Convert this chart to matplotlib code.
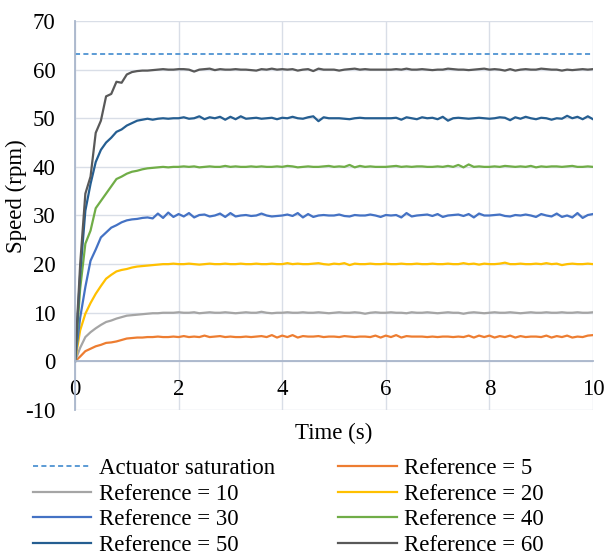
import numpy as np
import matplotlib
matplotlib.use("Agg")
import matplotlib.pyplot as plt

plt.rcParams["font.family"] = ["Liberation Serif", "DejaVu Serif"]
plt.rcParams["axes.unicode_minus"] = False

# Tiempo de muestreo 0.1 s, de 0 a 10 s
tiempo = np.linspace(0, 10, 101)

saturacion = 63.3

ref5 = [0, 1.0, 2.1, 2.6, 3.1, 3.4, 3.8, 3.9, 4.1, 4.4,
        4.7, 4.8, 4.9, 4.9, 5.0, 5.0, 5.1, 5.0, 5.0, 5.1,
        5.0, 5.2, 5.0, 5.1, 5.0, 5.3, 5.0, 5.1, 5.2, 5.0,
        5.1, 5.0, 5.0, 5.1, 5.0, 5.1, 5.2, 5.0, 5.4, 4.9,
        5.3, 5.0, 5.4, 4.9, 5.2, 5.1, 5.1, 5.2, 5.0, 5.1,
        5.1, 5.0, 5.2, 5.1, 5.0, 5.1, 5.1, 5.0, 5.3, 4.9,
        5.3, 5.0, 5.4, 4.9, 5.2, 5.1, 5.1, 5.1, 5.0, 5.1,
        5.0, 5.1, 5.1, 5.0, 5.1, 5.0, 5.3, 4.9, 5.3, 5.0,
        5.3, 4.9, 5.2, 5.0, 5.3, 4.9, 5.2, 5.0, 5.1, 5.1,
        5.0, 5.3, 4.9, 5.2, 5.0, 5.3, 4.9, 5.1, 5.0, 5.3,
        5.4]

ref10 = [0, 2.8, 5.0, 6.0, 6.8, 7.5, 8.1, 8.4, 8.8, 9.1,
         9.4, 9.5, 9.6, 9.7, 9.8, 9.9, 9.9, 10.0, 10.0, 10.0,
         10.1, 10.0, 10.0, 10.1, 9.9, 10.0, 10.1, 10.0, 10.0, 10.1,
         10.0, 9.9, 10.0, 10.1, 10.0, 10.0, 10.2, 10.0, 9.9, 10.0,
         10.0, 10.1, 10.0, 10.0, 10.1, 10.0, 10.0, 10.1, 10.0, 9.9,
         10.0, 10.1, 10.0, 10.0, 10.1, 10.0, 9.8, 10.0, 10.1, 10.0,
         10.0, 10.1, 10.0, 10.0, 9.9, 10.1, 10.0, 10.0, 10.1, 10.0,
         9.9, 10.0, 10.1, 10.0, 10.0, 9.8, 10.0, 10.1, 10.0, 9.9,
         10.0, 10.1, 10.0, 10.0, 10.1, 10.0, 9.9, 10.0, 10.1, 10.0,
         10.0, 10.1, 10.0, 10.0, 10.1, 10.0, 10.0, 10.1, 10.0, 10.0,
         10.1]

ref20 = [0, 6.4, 9.8, 12.0, 13.9, 15.5, 17.0, 17.8, 18.5, 18.8,
         19.0, 19.3, 19.5, 19.6, 19.7, 19.8, 19.9, 20.0, 20.0, 20.1,
         20.0, 20.0, 20.1, 20.0, 19.9, 20.0, 20.1, 20.0, 20.0, 20.1,
         20.0, 20.0, 20.1, 20.0, 20.0, 20.1, 20.0, 20.0, 20.1, 20.0,
         20.0, 20.2, 20.0, 20.1, 20.0, 20.0, 20.1, 20.2, 20.0, 19.9,
         20.1, 20.0, 20.2, 19.8, 20.1, 20.0, 20.0, 20.1, 20.0, 20.0,
         20.1, 20.0, 20.0, 20.1, 20.0, 20.0, 20.1, 20.0, 20.0, 20.1,
         20.0, 20.0, 20.1, 20.0, 20.0, 20.2, 20.0, 20.1, 19.9, 20.1,
         20.0, 20.0, 20.1, 20.3, 20.0, 20.0, 20.1, 20.0, 20.0, 20.1,
         20.0, 20.2, 20.0, 20.1, 19.8, 20.0, 20.1, 20.0, 20.0, 20.1,
         20.0]

ref30 = [0, 9.0, 15.3, 20.7, 23.0, 25.5, 26.5, 27.5, 28.0, 28.6,
         29.0, 29.2, 29.3, 29.5, 29.6, 29.4, 30.4, 29.5, 30.6, 29.7,
         30.3, 29.8, 30.5, 29.6, 30.1, 30.2, 29.8, 30.0, 30.4, 29.7,
         30.5, 29.8, 30.0, 30.1, 29.9, 30.0, 30.4, 30.0, 29.8, 29.9,
         30.0, 30.2, 29.9, 30.5, 29.6, 30.3, 29.7, 30.0, 30.1, 30.0,
         30.0, 30.2, 29.9, 29.8, 30.1, 30.0, 30.0, 30.2, 30.0, 29.7,
         30.1, 30.0, 30.1, 29.6, 30.5, 29.8, 30.0, 30.1, 30.2, 29.9,
         30.3, 29.7, 30.0, 30.1, 30.2, 29.9, 30.3, 29.6, 30.4, 30.0,
         30.0, 30.1, 30.2, 29.9, 29.8, 30.1, 30.0, 30.2, 30.0, 29.7,
         30.3, 30.0, 29.8, 30.4, 29.7, 30.0, 29.6, 30.5, 29.5, 30.1,
         30.3]

ref40 = [0, 15.0, 24.2, 26.9, 31.5, 33.0, 34.5, 36.0, 37.5, 38.0,
         38.6, 39.0, 39.2, 39.5, 39.7, 39.8, 39.9, 40.0, 39.9, 40.0,
         40.0, 40.1, 40.0, 40.1, 39.9, 40.0, 40.1, 40.0, 40.0, 40.2,
         40.0, 40.1, 40.0, 40.0, 40.1, 40.0, 40.1, 40.0, 40.0, 40.1,
         40.0, 40.2, 40.1, 39.9, 40.0, 40.1, 40.0, 40.0, 40.1, 40.2,
         40.0, 40.1, 40.0, 40.4, 39.9, 40.2, 40.0, 40.1, 40.0, 40.0,
         40.0, 40.1, 40.2, 40.0, 40.1, 40.0, 40.1, 40.1, 40.0, 40.0,
         40.1, 40.0, 40.2, 40.0, 40.4, 39.9, 40.5, 40.0, 40.1, 40.0,
         40.0, 40.1, 40.0, 40.2, 40.1, 40.0, 40.1, 40.0, 40.2, 39.9,
         40.1, 40.0, 40.1, 40.1, 40.0, 40.1, 40.2, 40.0, 40.0, 40.1,
         40.0]

ref50 = [0, 18.0, 31.0, 36.5, 41.0, 43.5, 45.0, 46.0, 47.2, 47.7,
         48.5, 49.0, 49.5, 49.7, 49.9, 49.7, 49.9, 50.0, 49.9, 50.0,
         50.0, 50.2, 49.9, 50.0, 50.4, 49.8, 50.2, 50.0, 50.3, 49.7,
         50.3, 49.8, 50.4, 49.9, 50.0, 50.1, 49.9, 50.0, 50.1, 49.8,
         50.1, 50.0, 50.3, 50.0, 49.9, 50.2, 50.4, 49.4, 50.2, 50.0,
         50.0, 50.0, 49.9, 49.8, 50.0, 50.1, 50.0, 50.0, 50.0, 50.0,
         50.0, 50.0, 50.1, 49.7, 50.2, 50.0, 49.8, 50.2, 50.0, 50.1,
         49.8, 50.3, 49.5, 50.0, 50.1, 50.0, 49.9, 50.0, 50.1, 50.0,
         49.9, 50.0, 50.2, 50.1, 49.6, 50.2, 49.9, 50.3, 50.0, 49.8,
         50.1, 50.0, 49.7, 50.0, 49.9, 50.5, 50.0, 50.3, 49.8, 50.4,
         49.8]

ref60 = [0, 20.0, 34.5, 38.0, 47.0, 49.5, 54.5, 55.0, 57.5, 57.3,
         59.0, 59.5, 59.7, 59.8, 59.8, 59.9, 60.0, 60.1, 60.0, 60.0,
         60.1, 60.1, 60.0, 59.6, 60.0, 60.1, 60.2, 59.9, 60.1, 60.0,
         60.0, 60.1, 60.0, 60.0, 59.9, 59.8, 60.1, 60.0, 60.2, 60.0,
         60.1, 60.0, 60.1, 59.8, 60.0, 60.1, 59.7, 60.2, 60.0, 60.0,
         60.0, 59.8, 60.0, 60.1, 60.2, 60.0, 60.1, 60.0, 60.0, 60.0,
         60.0, 60.0, 60.1, 60.0, 60.2, 60.0, 60.0, 60.1, 60.0, 59.9,
         60.0, 60.0, 60.2, 60.1, 60.0, 60.0, 59.9, 60.0, 60.1, 60.2,
         60.0, 60.1, 60.0, 59.8, 60.1, 59.8, 60.0, 60.1, 60.0, 60.0,
         60.2, 60.1, 60.0, 60.0, 59.8, 60.0, 59.9, 60.0, 60.1, 60.0,
         60.1]

series = [("Reference = 5", ref5, "#ED7D31"),
          ("Reference = 10", ref10, "#A5A5A5"),
          ("Reference = 20", ref20, "#FFC000"),
          ("Reference = 30", ref30, "#4472C4"),
          ("Reference = 40", ref40, "#70AD47"),
          ("Reference = 50", ref50, "#255E91"),
          ("Reference = 60", ref60, "#595959")]

fs = 16.5
fig = plt.figure(figsize=(6.04, 5.56), dpi=100)
ax = fig.add_axes([75 / 604, 1 - 410 / 556, 518 / 604, 389 / 556])

lineas = {}
lineas["sat"], = ax.plot([0, 10], [saturacion, saturacion], color="#5B9BD5",
                         lw=1.4, ls=(0, (2.6, 1.7)), label="Actuator saturation")
for nombre, datos, color in series:
    lineas[nombre], = ax.plot(tiempo, datos, color=color, lw=1.6, label=nombre)

ax.set_xlim(0, 10)
ax.set_ylim(-10, 70)
ax.set_xticks(np.arange(0, 11, 2))
ax.set_yticks(np.arange(-10, 71, 10))
ax.grid(True, color="#D9DEE7", lw=1.0)
ax.set_axisbelow(True)

for lado in ["top", "right"]:
    ax.spines[lado].set_visible(False)
ax.spines["bottom"].set_position(("data", 0))
ax.spines["bottom"].set_color("#A9B6CB")
ax.spines["left"].set_color("#A9B6CB")
ax.spines["bottom"].set_linewidth(1.3)
ax.spines["left"].set_linewidth(1.3)
ax.tick_params(axis="both", length=0, labelsize=fs)
ax.tick_params(axis="y", pad=14)
ax.tick_params(axis="x", pad=13)

fig.text(334 / 604, 1 - 433 / 556, "Time (s)", ha="center", va="center", fontsize=fs)
fig.text(16 / 604, 1 - 196 / 556, "Speed (rpm)", ha="center", va="center",
         rotation=90, fontsize=fs)

orden = ["sat", "Reference = 10", "Reference = 30", "Reference = 50",
         "Reference = 5", "Reference = 20", "Reference = 40", "Reference = 60"]
hs = [lineas[k] for k in orden]
fig.legend(hs, [h.get_label() for h in hs], loc="upper left",
           bbox_to_anchor=(33 / 604, 1 - 458 / 556), ncol=2, frameon=False,
           fontsize=fs, borderpad=0, borderaxespad=0, handlelength=2.55,
           handletextpad=0.33, columnspacing=2.75, labelspacing=0.2)

fig.savefig("out.png", dpi=100)
